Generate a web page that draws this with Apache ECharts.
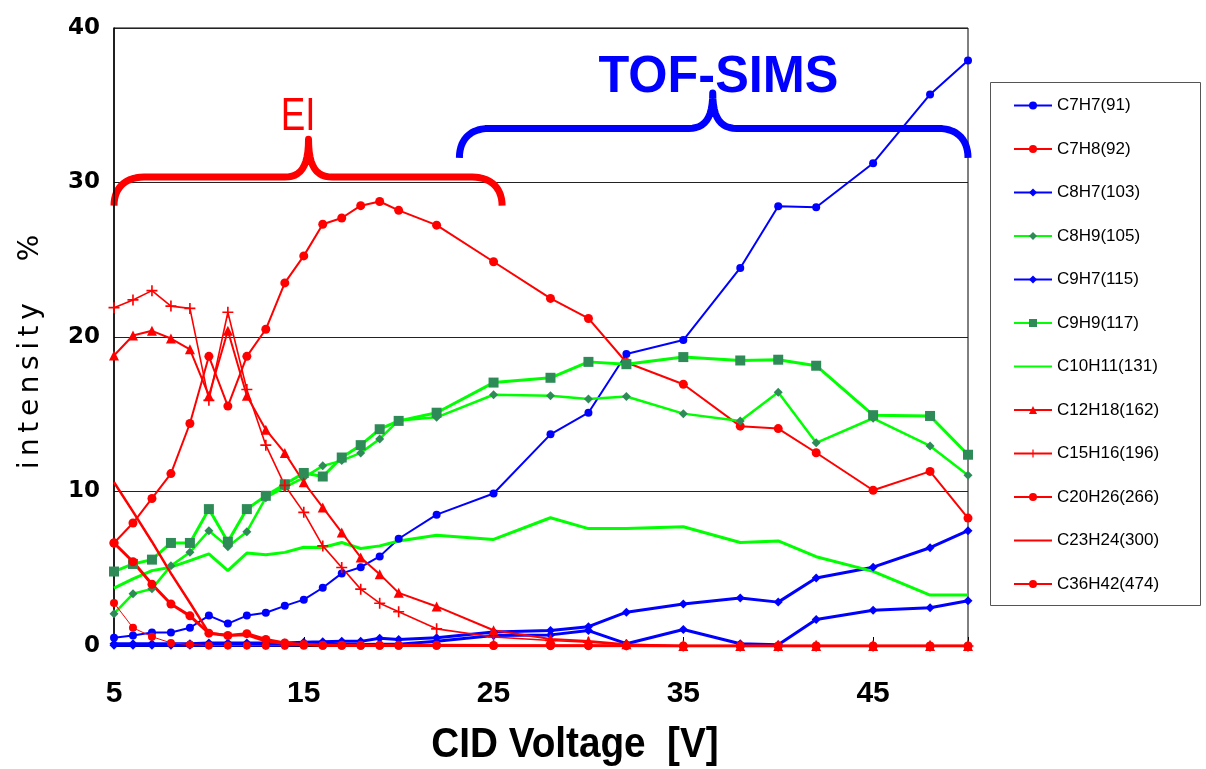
<!DOCTYPE html>
<html>
<head>
<meta charset="utf-8">
<script src="https://cdn.jsdelivr.net/npm/echarts@6/dist/echarts.min.js"></script>
<style>
html,body{margin:0;padding:0;background:#fff;}
#c{width:1206px;height:769px;}
</style>
</head>
<body>
<div id="c"></div>
<script>
// CID voltage values (x)
var voltages = [5,6,7,8,9,10,11,12,13,14,15,16,17,18,19,20,22,25,28,30,32,35,38,40,42,45,48,50];
var xTicks = [5,15,25,35,45];
var yTicks = [0,10,20,30,40];

var C7H7  = [0.53,0.68,0.88,0.88,1.18,1.97,1.45,1.97,2.15,2.6,3.0,3.77,4.7,5.1,5.8,6.94,8.5,9.87,13.7,15.1,18.9,19.8,24.47,28.46,28.4,31.25,35.7,37.9];
var C7H8  = [6.67,7.96,9.55,11.16,14.4,18.75,15.53,18.75,20.5,23.5,25.25,27.3,27.7,28.5,28.77,28.2,27.24,24.87,22.5,21.2,18.35,16.94,14.23,14.07,12.51,10.08,11.3,8.28];
var C8H7  = [0.15,0.15,0.15,0.15,0.15,0.2,0.2,0.2,0.2,0.2,0.25,0.27,0.3,0.3,0.5,0.42,0.53,0.9,1.0,1.25,2.19,2.72,3.1,2.84,4.4,5.1,6.36,7.46];
var C8H9  = [2.09,3.38,3.7,5.2,6.06,7.46,6.43,7.4,9.6,10.26,10.9,11.66,12.0,12.5,13.4,14.6,14.8,16.26,16.2,15.98,16.15,15.04,14.56,16.43,13.15,14.74,12.95,11.05];
var C9H7  = [0.05,0.05,0.05,0.05,0.05,0.05,0.05,0.05,0.05,0.05,0.08,0.1,0.1,0.1,0.12,0.12,0.3,0.68,0.72,1.0,0.15,1.07,0.15,0.08,1.72,2.32,2.48,2.93];
var C9H9  = [4.82,5.31,5.59,6.67,6.67,8.86,6.75,8.86,9.72,10.47,11.2,10.97,12.2,13.0,14.03,14.57,15.1,17.05,17.36,18.39,18.24,18.7,18.48,18.53,18.14,14.94,14.89,12.38];
var C10H11 = [3.74,4.34,4.88,5.1,5.53,5.96,4.88,6.02,5.9,6.06,6.39,6.38,6.7,6.31,6.48,6.8,7.17,6.9,8.3,7.6,7.6,7.72,6.7,6.8,5.78,4.83,3.3,3.3];
var C12H18 = [18.8,20.1,20.4,19.9,19.2,16.2,20.4,16.2,14.0,12.5,10.6,8.97,7.35,5.73,4.65,3.44,2.56,1.02,0.46,0.33,0.12,0,0,0,0,0,0,0];
var C15H16 = [21.9,22.4,23.0,22.0,21.85,15.9,21.6,16.6,13.0,10.4,8.65,6.48,5.08,3.68,2.77,2.22,1.11,0.58,0.36,0.25,0.08,0,0,0,0,0,0,0];
var C20H26 = [6.67,5.45,4.0,2.72,1.95,0.83,0.68,0.8,0.42,0.2,0.1,0.05,0.05,0.05,0.05,0.05,0.05,0.03,0.02,0.02,0.02,0,0,0,0,0,0,0];
var C23H24 = [10.6,8.7,6.75,4.7,2.8,0.85,0.7,0.7,0.3,0.15,0.1,0.05,0.05,0.03,0.03,0.03,0.03,0.02,0.02,0.02,0.02,0,0,0,0,0,0,0];
var C36H42 = [2.79,1.18,0.6,0.2,0.1,0.03,0.03,0.03,0.02,0.02,0.02,0.02,0.02,0.02,0.02,0.02,0.02,0.02,0.02,0.02,0.02,0,0,0,0,0,0,0];

var names = ['C7H7(91)','C7H8(92)','C8H7(103)','C8H9(105)','C9H7(115)','C9H9(117)','C10H11(131)','C12H18(162)','C15H16(196)','C20H26(266)','C23H24(300)','C36H42(474)'];

function pairs(arr){ return voltages.map(function(v,i){ return [v, arr[i]]; }); }

var BLUE='#0000ff', RED='#ff0000', GREEN='#00ff00', SEA='#2e8b57';
var plusPath = 'path://M3.4,0H4.6V3.4H8V4.6H4.6V8H3.4V4.6H0V3.4H3.4Z';

function mk(name, arr, color, width, symbol, size, markerColor){
  var has = symbol && symbol !== 'none';
  return {
    name: name, type: 'line', data: pairs(arr),
    symbol: has ? symbol : 'none', symbolSize: size || 0, showSymbol: has,
    lineStyle: {color: color, width: width},
    itemStyle: {color: has ? (markerColor || color) : 'rgba(0,0,0,0)', borderWidth: 0},
    emphasis: {disabled: true}, animation: false
  };
}

var series = [
  mk(names[0], C7H7, BLUE, 2, 'circle', 8),
  mk(names[1], C7H8, RED, 2, 'circle', 9),
  mk(names[2], C8H7, BLUE, 3, 'diamond', 9),
  mk(names[3], C8H9, GREEN, 2.5, 'diamond', 9, SEA),
  mk(names[4], C9H7, BLUE, 3, 'diamond', 9),
  mk(names[5], C9H9, GREEN, 3, 'rect', 10, SEA),
  mk(names[6], C10H11, GREEN, 3, 'none', 0),
  mk(names[7], C12H18, RED, 2, 'triangle', 10),
  mk(names[8], C15H16, RED, 1.6, plusPath, 11),
  mk(names[9], C20H26, RED, 3, 'circle', 9),
  mk(names[10], C23H24, RED, 2.5, 'none', 0),
  mk(names[11], C36H42, RED, 1, 'circle', 8)
];

var chart = echarts.init(document.getElementById('c'), null, {renderer:'canvas'});
chart.setOption({
  backgroundColor: '#fff',
  animation: false,
  grid: {left:114, right:238, top:28, bottom:123, show:true, borderColor:'#000', borderWidth:1, backgroundColor:'transparent'},
  xAxis: {
    type:'value', min:5, max:50, interval:10,
    axisLine:{show:true, lineStyle:{color:'#000', width:1}},
    axisTick:{show:true, inside:true, length:9, lineStyle:{color:'#000'}},
    splitLine:{show:false},
    axisLabel:{margin:33, color:'#000', fontSize:30, fontWeight:'bold', fontFamily:'Liberation Sans, Arial, sans-serif',
      formatter:function(v){ return xTicks.indexOf(v)>=0 ? String(v) : ''; }}
  },
  yAxis: {
    type:'value', min:0, max:40, interval:10,
    axisLine:{show:true, lineStyle:{color:'#000', width:1.5}},
    axisTick:{show:false},
    splitLine:{show:true, lineStyle:{color:'#222', width:1}},
    axisLabel:{margin:14, color:'#000', fontSize:23, fontWeight:'bold', fontFamily:'DejaVu Sans, sans-serif',
      formatter:function(v){ return yTicks.indexOf(v)>=0 ? String(v) : ''; }}
  },
  legend: {
    orient:'vertical', left:1008, top:92, itemGap:26.5, itemWidth:38, itemHeight:10,
    textStyle:{color:'#000', fontSize:17, fontFamily:'Liberation Sans, Arial, sans-serif'},
    data: names
  },
  series: series
});

// Annotation braces and labels, placed through the axes
function px(v, y){ return chart.convertToPixel({gridIndex:0}, [v, y]); }
function bez(p0,p1,p2,p3,n,out){
  for (var i=1;i<=n;i++){
    var t=i/n, u=1-t;
    out.push([u*u*u*p0[0]+3*u*u*t*p1[0]+3*u*t*t*p2[0]+t*t*t*p3[0],
              u*u*u*p0[1]+3*u*u*t*p1[1]+3*u*t*t*p2[1]+t*t*t*p3[1]]);
  }
}
function brace(vL, vR, vM, yE, yB, yP){
  var L = px(vL, yE), R = px(vR, yE), B = px(vM, yB), P = px(vM, yP);
  var xL=L[0], xR=R[0], ye=L[1], yb=B[1], xm=P[0], yp=P[1], r=30;
  var pts=[[xL,ye]];
  bez([xL,ye],[xL,yb+12],[xL+10,yb],[xL+r,yb],14,pts);
  pts.push([xm-24,yb]);
  bez([xm-24,yb],[xm-8,yb],[xm,yb-10],[xm,yp],12,pts);
  bez([xm,yp],[xm,yb-10],[xm+8,yb],[xm+24,yb],12,pts);
  pts.push([xR-r,yb]);
  bez([xR-r,yb],[xR-10,yb],[xR,yb+12],[xR,ye],14,pts);
  return pts;
}
var eiPos = px(14.7, 34.2), tofPos = px(36.85, 36.8);
var TS = '\u2009';
var yName = ['i','n','t','e','n','s','i','t','y'].join(TS) + '\u2003\u2002%';
chart.setOption({
  graphic: [
    {type:'rect', shape:{x:990.5, y:82.5, width:210, height:523}, style:{fill:'none', stroke:'#555', lineWidth:1}, z:-1},
    {type:'polyline', shape:{points: brace(5, 25.45, 15.25, 28.5, 30.35, 32.8)}, style:{fill:null, stroke:RED, lineWidth:7, lineJoin:'round'}},
    {type:'polyline', shape:{points: brace(23.2, 50, 36.55, 31.6, 33.5, 35.8)}, style:{fill:null, stroke:BLUE, lineWidth:7, lineJoin:'round'}},
    {type:'text', x:eiPos[0], y:eiPos[1], scaleX:0.8, style:{text:'EI', fill:RED, font:'46px "Liberation Sans", sans-serif', textAlign:'center', textVerticalAlign:'middle'}},
    {type:'text', x:tofPos[0], y:tofPos[1], scaleX:0.97, style:{text:'TOF-SIMS', fill:BLUE, font:'bold 52px "Liberation Sans", sans-serif', textAlign:'center', textVerticalAlign:'middle'}},
    {type:'text', x:575, y:745, scaleX:0.9, style:{text:'CID Voltage  [V]', fill:'#000', font:'bold 43px "Liberation Sans", sans-serif', textAlign:'center', textVerticalAlign:'middle'}},
    {type:'text', x:31, y:352, rotation:Math.PI/2, style:{text:yName, fill:'#000', font:'28px "DejaVu Sans", sans-serif', textAlign:'center', textVerticalAlign:'middle'}}
  ]
});
</script>
</body>
</html>
